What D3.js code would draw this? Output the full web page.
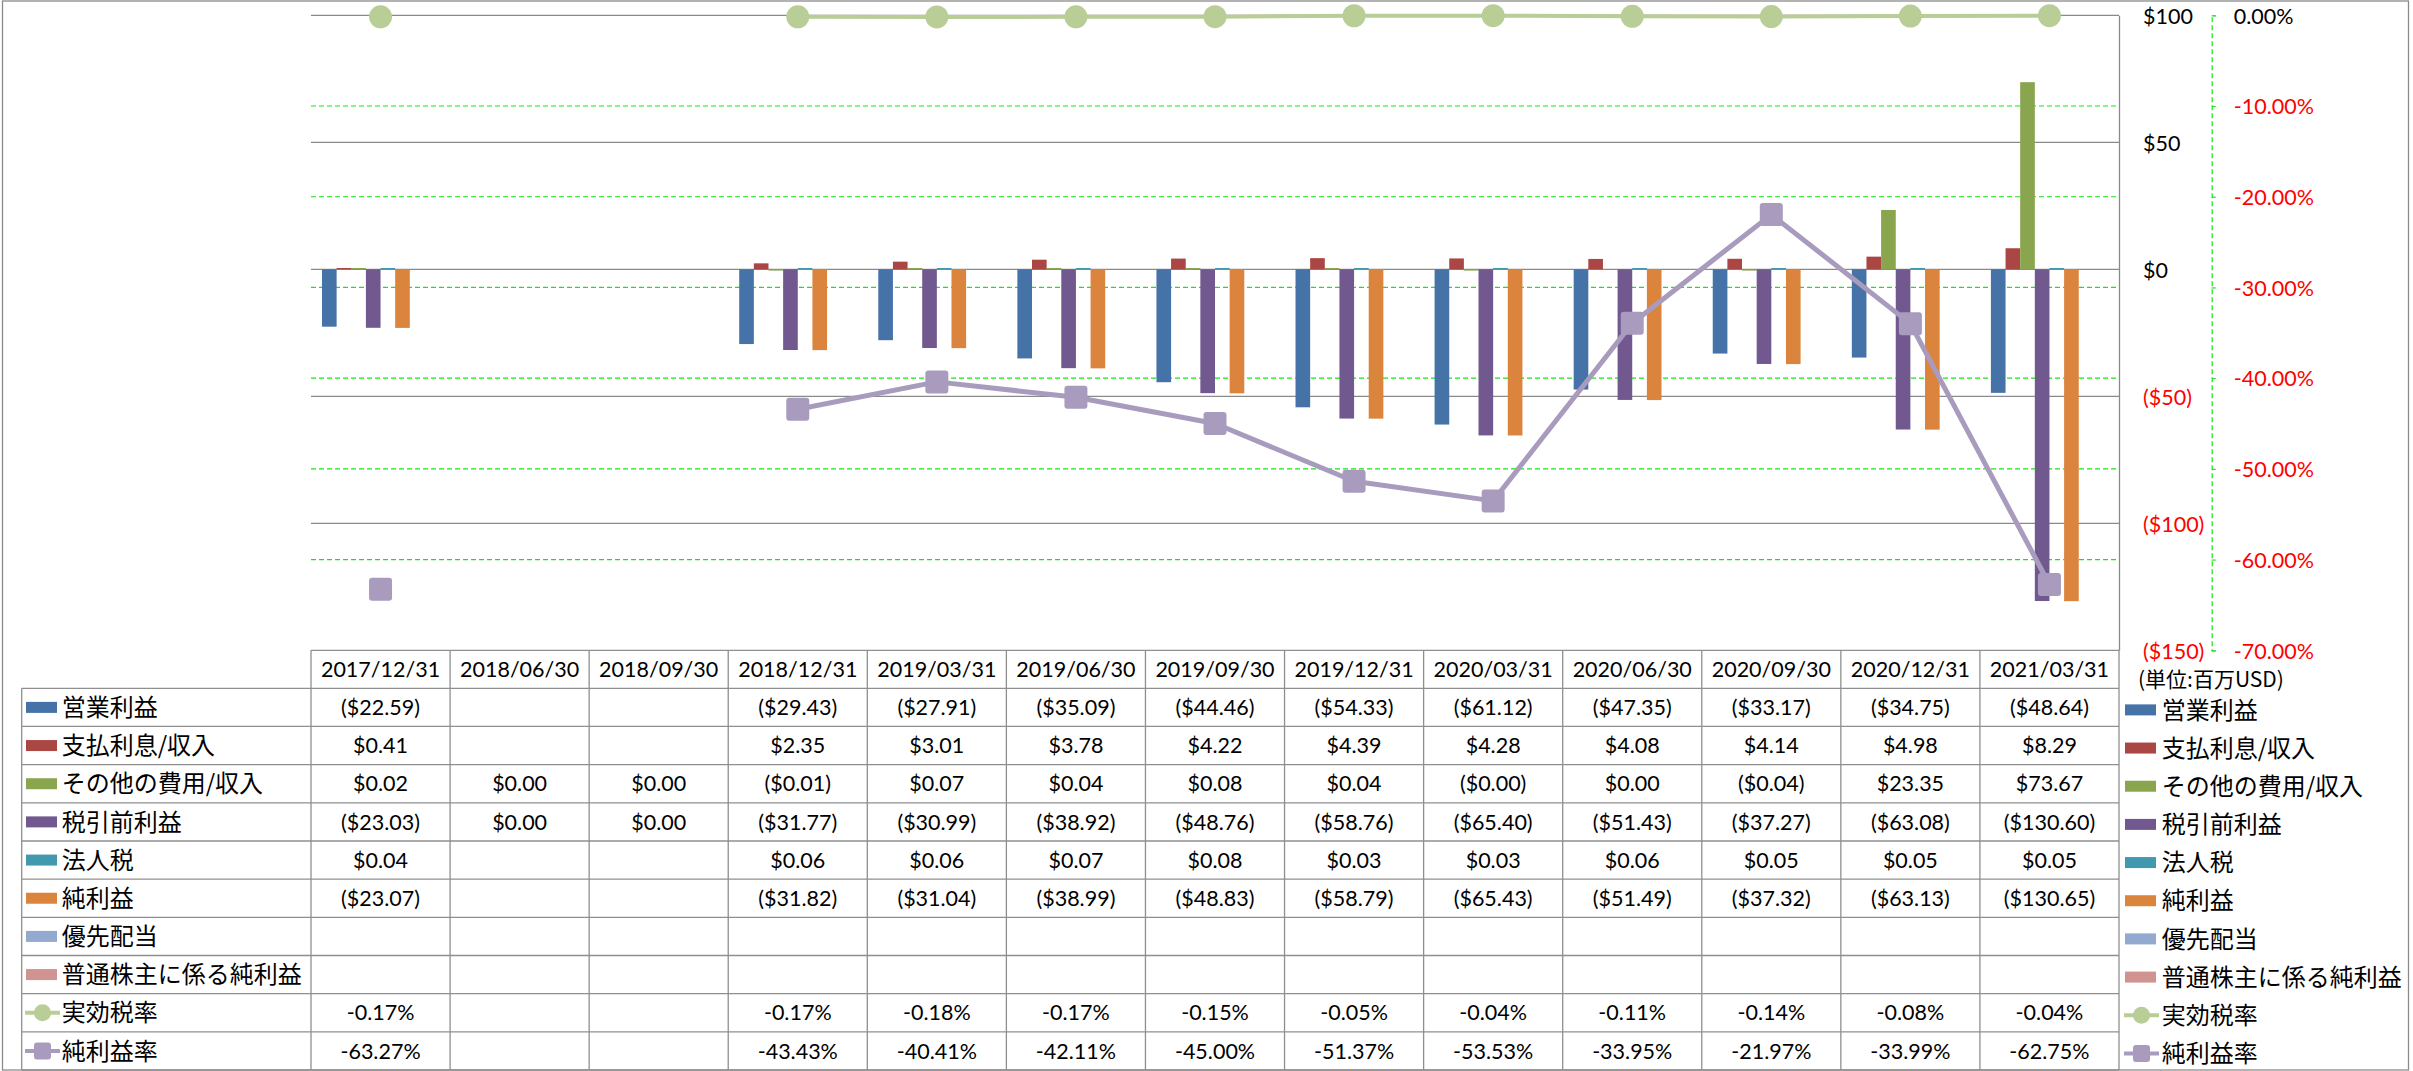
<!DOCTYPE html>
<html><head><meta charset="utf-8">
<script src="https://cdn.jsdelivr.net/npm/d3@7"></script>
<style>
html,body{margin:0;padding:0;background:#fff;}
svg{display:block;}
</style></head><body>
<svg id="chart" width="2413" height="1071"></svg>
<script>
// ---------------- data ----------------
const dates = ["2017/12/31","2018/06/30","2018/09/30","2018/12/31","2019/03/31","2019/06/30","2019/09/30","2019/12/31","2020/03/31","2020/06/30","2020/09/30","2020/12/31","2021/03/31"];
const operatingIncome   = [-22.59, null, null, -29.43, -27.91, -35.09, -44.46, -54.33, -61.12, -47.35, -33.17, -34.75, -48.64];
const interestExpense   = [0.41, null, null, 2.35, 3.01, 3.78, 4.22, 4.39, 4.28, 4.08, 4.14, 4.98, 8.29];
const otherExpense      = [0.02, 0.00, 0.00, -0.01, 0.07, 0.04, 0.08, 0.04, -0.004, 0.00, -0.04, 23.35, 73.67];
const pretaxIncome      = [-23.03, 0.00, 0.00, -31.77, -30.99, -38.92, -48.76, -58.76, -65.40, -51.43, -37.27, -63.08, -130.60];
const incomeTax         = [0.04, null, null, 0.06, 0.06, 0.07, 0.08, 0.03, 0.03, 0.06, 0.05, 0.05, 0.05];
const netIncome         = [-23.07, null, null, -31.82, -31.04, -38.99, -48.83, -58.79, -65.43, -51.49, -37.32, -63.13, -130.65];
const preferredDividend = [null, null, null, null, null, null, null, null, null, null, null, null, null];
const netIncomeCommon   = [null, null, null, null, null, null, null, null, null, null, null, null, null];
const effectiveTaxRate  = [-0.17, null, null, -0.17, -0.18, -0.17, -0.15, -0.05, -0.04, -0.11, -0.14, -0.08, -0.04];
const netMargin         = [-63.27, null, null, -43.43, -40.41, -42.11, -45.00, -51.37, -53.53, -33.95, -21.97, -33.99, -62.75];

const barNames  = ["営業利益", "支払利息/収入", "その他の費用/収入", "税引前利益", "法人税", "純利益", "優先配当", "普通株主に係る純利益"];
const lineNames = ["実効税率", "純利益率"];
const leftTicks  = [100, 50, 0, -50, -100, -150];
const rightTicks = [0, -10, -20, -30, -40, -50, -60, -70];
const unitLabel = "(単位:百万USD)";

// ---------------- styles ----------------
const barColors  = ["#4572A7", "#AA4643", "#89A54E", "#71588F", "#4198AF", "#DB843D", "#93A9CF", "#D19392"];
const lineColors = ["#B9CD96", "#A99BBD"];
const NUM_FONT = "Lato, 'Liberation Sans', sans-serif";
const CJK_FONT = "'Noto Sans CJK JP', 'Noto Sans CJK SC', sans-serif";
const GRID = "#8a8a8a";
const GREEN_GRID = "#16e616";

const barSeries = [operatingIncome, interestExpense, otherExpense, pretaxIncome, incomeTax, netIncome, preferredDividend, netIncomeCommon]
  .map((values, k) => ({ name: barNames[k], values, color: barColors[k] }));
const lineSeries = [effectiveTaxRate, netMargin]
  .map((values, k) => ({ name: lineNames[k], values, color: lineColors[k], shape: k === 0 ? "circle" : "square" }));

// ---------------- layout ----------------
const plotL = 311, plotR = 2119, plotT = 15.3, plotB = 650.3;
const tableTop = 650.3, headerH = 38, rowH = 38.17, labelL = 21.7;

const svg = d3.select("#chart");
svg.append("rect").attr("x", 2.5).attr("y", 1).attr("width", 2406).attr("height", 1069)
  .attr("fill", "#fff").attr("stroke", GRID).attr("stroke-width", 1.3);

const x = d3.scaleBand().domain(dates).range([plotL, plotR]).paddingInner(0).paddingOuter(0);
const xs = d3.scaleBand().domain(barNames).range([0, x.bandwidth()]).paddingInner(0).paddingOuter(0.75);
const yL = d3.scaleLinear().domain([-150, 100]).range([plotB, plotT]);
const yR = d3.scaleLinear().domain([-70, 0]).range([plotB, plotT]);

// gridlines
const grid = svg.append("g");
grid.selectAll("line.g").data(leftTicks.filter(t => t !== -150)).join("line")
  .attr("x1", plotL).attr("x2", plotR).attr("y1", d => yL(d)).attr("y2", d => yL(d))
  .attr("stroke", GRID).attr("stroke-width", 1.3);
grid.selectAll("line.gg").data(rightTicks.filter(t => t !== 0 && t !== -70)).join("line")
  .attr("x1", plotL).attr("x2", plotR).attr("y1", d => yR(d)).attr("y2", d => yR(d))
  .attr("stroke", GREEN_GRID).attr("stroke-width", 1.2).attr("stroke-dasharray", "5,3");

// bars
const barsG = svg.append("g");
barSeries.forEach(s => {
  const pts = s.values.map((v, i) => ({ v, d: dates[i] })).filter(p => p.v !== null);
  barsG.selectAll(null).data(pts).join("rect")
    .attr("x", p => x(p.d) + xs(s.name))
    .attr("width", xs.bandwidth())
    .attr("y", p => {
      const h = Math.abs(yL(p.v) - yL(0));
      return p.v >= 0 ? yL(0) - Math.max(h, p.v !== 0 ? 1.3 : 0) : yL(0);
    })
    .attr("height", p => p.v === 0 ? 0 : Math.max(Math.abs(yL(p.v) - yL(0)), 1.3))
    .attr("fill", s.color);
});

// axes
const axL = d3.axisRight(yL).tickValues(leftTicks).tickSize(0).tickPadding(24)
  .tickFormat(d => d < 0 ? `($${Math.abs(d)})` : `$${d}`);
const gL = svg.append("g").attr("transform", `translate(${plotR},0)`).call(axL);
gL.select(".domain").attr("stroke", GRID).attr("stroke-width", 1.3);
gL.attr("font-family", NUM_FONT).attr("font-size", 21.5);
gL.selectAll("text").attr("fill", d => d < 0 ? "#ff0000" : "#000").attr("dy", "0.36em");

const axR = d3.axisRight(yR).tickValues(rightTicks).tickSize(4).tickPadding(18)
  .tickFormat(d => `${d.toFixed(2)}%`);
const gR = svg.append("g").attr("transform", "translate(2211.7,0)").call(axR);
gR.select(".domain").attr("stroke", GREEN_GRID).attr("stroke-width", 1.2).attr("stroke-dasharray", "5,3");
gR.selectAll(".tick line").attr("stroke", GREEN_GRID).attr("stroke-width", 1.2);
gR.attr("font-family", NUM_FONT).attr("font-size", 21.5);
gR.selectAll("text").attr("fill", d => d < 0 ? "#ff0000" : "#000").attr("dy", "0.36em");

// lines
const linesG = svg.append("g");
const cx = d => x(d) + x.bandwidth() / 2;
function drawMarker(g, shape, color, px, py, size) {
  if (shape === "circle") {
    g.append("circle").attr("cx", px).attr("cy", py).attr("r", size / 2).attr("fill", color);
  } else {
    g.append("rect").attr("x", px - size / 2).attr("y", py - size / 2).attr("width", size).attr("height", size)
      .attr("rx", 3).attr("fill", color);
  }
}
lineSeries.forEach((s, k) => {
  const pts = s.values.map((v, i) => ({ v, d: dates[i] }));
  const line = d3.line().defined(p => p.v !== null).x(p => cx(p.d)).y(p => yR(p.v));
  linesG.append("path").attr("d", line(pts)).attr("fill", "none")
    .attr("stroke", s.color).attr("stroke-width", k === 0 ? 4 : 5).attr("stroke-linejoin", "round");
  pts.filter(p => p.v !== null).forEach(p => drawMarker(linesG, s.shape, s.color, cx(p.d), yR(p.v), 23));
});

// ---------------- data table ----------------
const tbl = svg.append("g");
const rowsAll = [...barSeries.map(s => ({ ...s, kind: "bar" })), ...lineSeries.map(s => ({ ...s, kind: "line" }))];
const rowTop = i => tableTop + headerH + i * rowH;
const tableBottom = rowTop(rowsAll.length);
const LINE_C = "#8f8f8f";

// horizontal lines
tbl.append("line").attr("x1", plotL).attr("x2", plotR).attr("y1", tableTop).attr("y2", tableTop)
  .attr("stroke", LINE_C).attr("stroke-width", 1.3);
d3.range(rowsAll.length + 1).forEach(i => {
  tbl.append("line").attr("x1", labelL).attr("x2", plotR).attr("y1", rowTop(i)).attr("y2", rowTop(i))
    .attr("stroke", LINE_C).attr("stroke-width", 1.3);
});
// vertical lines
tbl.append("line").attr("x1", labelL).attr("x2", labelL).attr("y1", rowTop(0)).attr("y2", tableBottom)
  .attr("stroke", LINE_C).attr("stroke-width", 1.3);
d3.range(dates.length + 1).forEach(j => {
  const xx = j < dates.length ? x(dates[j]) : plotR;
  tbl.append("line").attr("x1", xx).attr("x2", xx).attr("y1", tableTop).attr("y2", tableBottom)
    .attr("stroke", LINE_C).attr("stroke-width", 1.3);
});
// header text
tbl.selectAll("text.hdr").data(dates).join("text")
  .attr("x", d => cx(d)).attr("y", tableTop + headerH / 2).attr("dy", "0.36em")
  .attr("text-anchor", "middle").attr("font-family", NUM_FONT).attr("font-size", 21.5).attr("fill", "#000")
  .text(d => d);

const fmtUSD = v => v < 0 ? `($${Math.abs(v).toFixed(2)})` : `$${v.toFixed(2)}`;
const fmtPct = v => `${v.toFixed(2)}%`;

function legendKey(g, s, x0, yc) {
  if (s.kind === "bar") {
    g.append("rect").attr("x", x0).attr("y", yc - 5.5).attr("width", 31).attr("height", 11).attr("fill", s.color);
  } else {
    g.append("line").attr("x1", x0 - 1).attr("x2", x0 + 34).attr("y1", yc).attr("y2", yc)
      .attr("stroke", s.color).attr("stroke-width", 4);
    drawMarker(g, s.shape, s.color, x0 + 16.5, yc, 17);
  }
}

rowsAll.forEach((s, i) => {
  const yc = rowTop(i) + rowH / 2;
  legendKey(tbl, s, 26, yc);
  tbl.append("text").attr("x", 61.7).attr("y", yc).attr("dy", "0.36em")
    .attr("font-family", CJK_FONT).attr("font-size", 24).attr("fill", "#000").text(s.name);
  s.values.forEach((v, j) => {
    if (v === null) return;
    tbl.append("text").attr("x", cx(dates[j])).attr("y", yc).attr("dy", "0.36em")
      .attr("text-anchor", "middle").attr("font-family", NUM_FONT).attr("font-size", 21.5).attr("fill", "#000")
      .text(s.kind === "bar" ? fmtUSD(v) : fmtPct(v));
  });
  // right-hand legend
  const yl = yc + 2.5;
  legendKey(svg, s, 2125, yl);
  svg.append("text").attr("x", 2161.7).attr("y", yl).attr("dy", "0.36em")
    .attr("font-family", CJK_FONT).attr("font-size", 24).attr("fill", "#000").text(s.name);
});

// unit label
svg.append("text").attr("x", 2138).attr("y", 679).attr("dy", "0.36em")
  .attr("font-family", CJK_FONT).attr("font-size", 21).attr("fill", "#000").text(unitLabel);
</script>
</body></html>
